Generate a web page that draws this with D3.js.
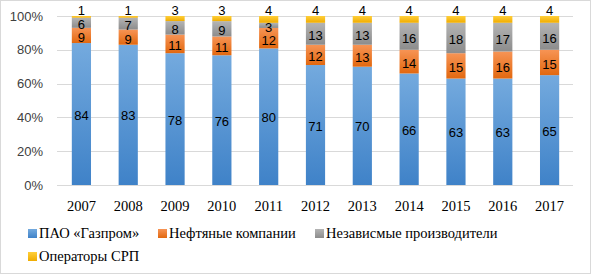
<!DOCTYPE html>
<html>
<head>
<meta charset="utf-8">
<script src="https://cdn.jsdelivr.net/npm/d3@7"></script>
<style>
  body { margin: 0; background: #fff; }
  svg { display: block; }
</style>
</head>
<body>
<div id="vis"></div>
<script>
var width = 591;
var height = 274;

var years = ["2007", "2008", "2009", "2010", "2011", "2012", "2013", "2014", "2015", "2016", "2017"];
var seriesNames = ["ПАО «Газпром»", "Нефтяные компании", "Независмые производители", "Операторы СРП"];
var gazprom = [84, 83, 78, 76, 80, 71, 70, 66, 63, 63, 65];
var oil = [9, 9, 11, 11, 12, 12, 13, 14, 15, 16, 15];
var independent = [6, 7, 8, 9, 3, 13, 13, 16, 18, 17, 16];
var srp = [1, 1, 3, 3, 4, 4, 4, 4, 4, 4, 4];
var yTicks = [0, 0.2, 0.4, 0.6, 0.8, 1];

var colors = [
  ["#74aade", "#3f82c8"],
  ["#f79455", "#e2680f"],
  ["#b4b4b4", "#8c8c8c"],
  ["#ffcf3a", "#f0ac00"]
];

var serif = "'Liberation Serif', 'Times New Roman', serif";
var sans = "'Liberation Sans', Arial, sans-serif";

var svg = d3.select("#vis")
  .append("svg")
  .attr("width", width)
  .attr("height", height);

svg.append("rect")
  .attr("x", 0.5).attr("y", 0.5)
  .attr("width", width - 1).attr("height", height - 1)
  .attr("fill", "#fff")
  .attr("stroke", "#d9d9d9");

var defs = svg.append("defs");
colors.forEach(function (c, i) {
  var g = defs.append("linearGradient")
    .attr("id", "grad" + i)
    .attr("x1", "0").attr("y1", "0").attr("x2", "0").attr("y2", "1");
  g.append("stop").attr("offset", "0%").attr("stop-color", c[0]);
  g.append("stop").attr("offset", "100%").attr("stop-color", c[1]);
});

var x = d3.scaleBand()
  .domain(years)
  .range([58, 573])
  .paddingInner(0.59)
  .paddingOuter(0.295);

var y = d3.scaleLinear()
  .domain([0, 1])
  .range([185, 16]);

// gridlines
svg.append("g")
  .selectAll("line")
  .data(yTicks)
  .enter()
  .append("line")
  .attr("x1", 57)
  .attr("x2", 573)
  .attr("y1", d => Math.round(y(d)) + 0.5)
  .attr("y2", d => Math.round(y(d)) + 0.5)
  .attr("stroke", "#d9d9d9")
  .attr("stroke-width", 1);

// y axis labels
var yAxis = d3.axisLeft(y)
  .tickValues(yTicks)
  .tickFormat(d3.format(".0%"))
  .tickSize(0)
  .tickPadding(0);

var yg = svg.append("g")
  .attr("transform", "translate(43,0)")
  .call(yAxis);
yg.select(".domain").remove();
yg.selectAll("text")
  .style("font-family", sans)
  .style("font-size", "13px")
  .attr("fill", "#404040");

// x axis labels
var xAxis = d3.axisBottom(x).tickSize(0).tickPadding(0);
var xg = svg.append("g")
  .attr("transform", "translate(0,201)")
  .call(xAxis);
xg.select(".domain").remove();
xg.selectAll("text")
  .style("font-family", serif)
  .style("font-size", "14.5px")
  .attr("fill", "#000");

// stacked data
var table = years.map(function (yr, i) {
  var vals = [gazprom[i], oil[i], independent[i], srp[i]];
  var total = d3.sum(vals);
  var row = { year: yr, total: total };
  vals.forEach(function (v, k) { row["s" + k] = v; });
  return row;
});

var stack = d3.stack()
  .keys(["s0", "s1", "s2", "s3"])
  .value((d, key) => d[key] / d.total);

var layers = stack(table);

var groups = svg.append("g")
  .selectAll("g")
  .data(layers)
  .enter()
  .append("g")
  .attr("fill", (d, i) => "url(#grad" + i + ")");

groups.selectAll("rect")
  .data(d => d)
  .enter()
  .append("rect")
  .attr("x", d => x(d.data.year))
  .attr("width", x.bandwidth())
  .attr("y", d => y(d[1]))
  .attr("height", d => y(d[0]) - y(d[1]));

// data labels
layers.forEach(function (layer, li) {
  svg.append("g")
    .selectAll("text")
    .data(layer)
    .enter()
    .append("text")
    .attr("x", d => x(d.data.year) + x.bandwidth() / 2)
    .attr("y", function (d) {
      if (li === 3) return 10;
      return (y(d[0]) + y(d[1])) / 2 + (li === 0 ? 1 : 2);
    })
    .attr("text-anchor", "middle")
    .attr("dominant-baseline", "central")
    .style("font-family", sans)
    .style("font-size", "13px")
    .attr("fill", "#000")
    .text(d => d.data["s" + li]);
});

// legend
var legendPos = [[28, 233], [158, 233], [315, 233], [28, 256]];
var legend = svg.append("g")
  .selectAll("g")
  .data(seriesNames)
  .enter()
  .append("g")
  .attr("transform", (d, i) => "translate(" + legendPos[i][0] + "," + legendPos[i][1] + ")");

legend.append("rect")
  .attr("x", 0)
  .attr("y", -4)
  .attr("width", 9)
  .attr("height", 9)
  .attr("fill", (d, i) => "url(#grad" + i + ")");

legend.append("text")
  .attr("x", 11)
  .attr("y", 0)
  .attr("dominant-baseline", "central")
  .style("font-family", serif)
  .style("font-size", "14.5px")
  .attr("fill", "#000")
  .text(d => d);
</script>
</body>
</html>
